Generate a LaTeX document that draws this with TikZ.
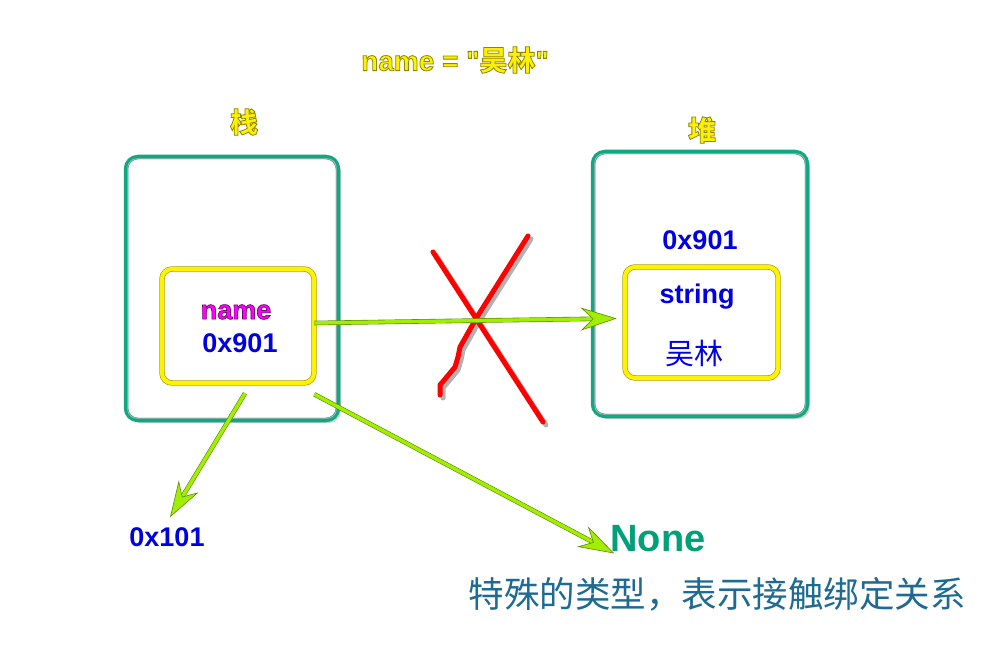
\documentclass[tikz,border=0pt]{standalone}
\usepackage{fontspec}
\setmainfont{Liberation Sans}
\newfontfamily\lat{Liberation Sans}
\newfontfamily\cjk{Noto Sans CJK SC}
\usetikzlibrary{arrows.meta,shadows}
\definecolor{tealbox}{HTML}{12A783}
\definecolor{yedge}{HTML}{A09A00}
\definecolor{arrowgreen}{HTML}{A2EE00}
\definecolor{arrowdark}{HTML}{5E8C00}
\definecolor{lblue}{HTML}{0000E0}
\definecolor{mag}{HTML}{FF00FF}
\definecolor{noneteal}{HTML}{00A078}
\definecolor{botblue}{HTML}{1D6A92}
\definecolor{ytext}{HTML}{FFF000}
% outlined text: #1 = stroke colour (r g b), #2 = width, #3 = text
\newcommand\outl[3]{\special{pdf:literal direct #1 RG 2 Tr #2 w}#3\special{pdf:literal direct 0 Tr}}
\begin{document}
\begin{tikzpicture}[x=1pt,y=-1pt,
  outerbox/.style={draw=tealbox, line width=4.5pt, rounded corners=12pt, fill=white,
    drop shadow={shadow xshift=3pt,shadow yshift=-3pt,opacity=0.35}, inner sep=0pt},
  innerline/.style={draw=black!30, line width=0.8pt, rounded corners=9pt},
  ybox/.style={draw=yedge, double=yellow, double distance=4.2pt, line width=0.6pt,
    rounded corners=10pt, fill=white,
    drop shadow={shadow xshift=2pt,shadow yshift=-2pt,opacity=0.3}, inner sep=0pt},
  garrow/.style={draw=arrowdark, double=arrowgreen, double distance=3.4pt, line width=0.6pt,
    -{Stealth[length=36pt,width=23pt,inset=12pt,fill=arrowgreen,color=arrowdark,line width=0.6pt]}},
  redline/.style={draw=red, line width=5pt, line cap=round, line join=round},
  redshadow/.style={draw=black, opacity=0.3, line width=5pt, line cap=round, line join=round},
  bluetxt/.style={font=\lat\bfseries\fontsize{27}{27}\selectfont, text=lblue, inner sep=0pt},
  ytxt/.style={font=\lat\bfseries\fontsize{28}{28}\selectfont, text=ytext, inner sep=0pt},
]
\path[use as bounding box, fill=white] (0,0) rectangle (1007,655);

% boxes
\node[outerbox, minimum width=212pt, minimum height=263pt] (stack) at (232,288.5) {};
\draw[innerline] ([shift={(4pt,-4pt)}]stack.north west) rectangle ([shift={(-4pt,4pt)}]stack.south east);
\node[outerbox, minimum width=214pt, minimum height=264pt] (heap) at (700,284) {};
\draw[innerline] ([shift={(4pt,-4pt)}]heap.north west) rectangle ([shift={(-4pt,4pt)}]heap.south east);
\node[ybox, minimum width=152pt, minimum height=114pt] (stackin) at (238,326) {};
\node[ybox, minimum width=153pt, minimum height=111pt] (heapin) at (701.5,322.5) {};

% texts
\node[ytxt] (title) at (455,60) {\outl{0.55 0.52 0}{0.8}{name = "{\cjk 吴林}"}};
\node[ytxt] (zhan) at (244,122) {\outl{0.55 0.52 0}{0.8}{\cjk 栈}};
\node[ytxt] (dui) at (702,130) {\outl{0.55 0.52 0}{0.8}{\cjk 堆}};
\node[bluetxt, text=mag] (name) at (236,312) {\outl{0.45 0 0.45}{0.7}{name}};
\node[bluetxt] (addr1) at (240,343) {0x901};
\node[bluetxt] (addr2) at (700,240) {0x901};
\node[bluetxt] (str) at (697,297) {string};
\node[bluetxt, font=\cjk\fontsize{29}{29}\selectfont] (val) at (694,353) {吴林};
\node[bluetxt] (addr3) at (167,537) {0x101};
\node[inner sep=0pt, text=noneteal, font=\lat\bfseries\fontsize{38}{38}\selectfont] (none) at (658,539) {None};
\node[inner sep=0pt, text=botblue, font=\cjk\fontsize{35.5}{35.5}\selectfont] (desc) at (717,594) {特殊的类型，表示接触绑定关系};

% red cross (with soft shadow)
\draw[redshadow] (436,255) -- (546,425);
\draw[redshadow] (531,239) -- (480,320) -- (463,350) -- (461,360) -- (458,370) -- (453,376) -- (443,388) -- (443,398);
\draw[redline] (433,252) -- (543,422);
\draw[redline] (528,236) -- (477,317) -- (460,347) -- (458,357) -- (455,367) -- (450,373) -- (440,385) -- (440,395);

% arrows
\draw[garrow] ([shift={(0pt,3pt)}]stackin.east) -- ([shift={(-8pt,4pt)}]heapin.west);
\draw[garrow] ([shift={(0pt,-11pt)}]stackin.east |- stackin.south) -- ([shift={(4pt,-1pt)}]none.south west);
\draw[garrow] ([shift={(7pt,-10pt)}]stackin.south) -- ([shift={(3pt,10pt)}]addr3.north);
\end{tikzpicture}
\end{document}
